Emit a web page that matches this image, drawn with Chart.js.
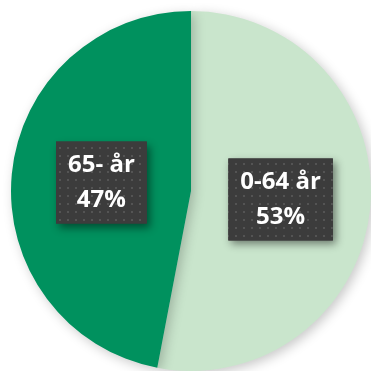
<!DOCTYPE html>
<html>
<head>
<meta charset="utf-8">
<script src="https://cdn.jsdelivr.net/npm/chart.js@4"></script>
<style>
html,body{margin:0;padding:0;background:#ffffff;}
#c{display:block;}
</style>
</head>
<body>
<canvas id="c" width="371" height="371"></canvas>
<script>
const categories = ["0-64 år", "65- år"];
const values = [53, 47];
const colors = ["#c9e5cc", "#00915e"];

const shadowPlugin = {
  id: 'pieShadow',
  beforeDatasetsDraw(chart) {
    const ctx = chart.ctx;
    ctx.save();
    ctx.shadowColor = 'rgba(0,0,0,0.22)';
    ctx.shadowBlur = 12;
    ctx.shadowOffsetX = 3;
    ctx.shadowOffsetY = 3;
  },
  afterDatasetsDraw(chart) {
    chart.ctx.restore();
  }
};

function makePattern(ctx) {
  const p = document.createElement('canvas');
  p.width = 8; p.height = 8;
  const pc = p.getContext('2d');
  pc.fillStyle = '#3c3c3c';
  pc.fillRect(0, 0, 8, 8);
  pc.fillStyle = '#545454';
  pc.fillRect(3, 3, 2, 2);
  return ctx.createPattern(p, 'repeat');
}

const labelPlugin = {
  id: 'boxLabels',
  afterDraw(chart) {
    const ctx = chart.ctx;
    const meta = chart.getDatasetMeta(0);
    const total = values.reduce((a, b) => a + b, 0);
    ctx.save();
    ctx.font = 'bold 24px "Open Sans", sans-serif';
    const pattern = makePattern(ctx);
    meta.data.forEach((arc, i) => {
      const pos = arc.tooltipPosition();
      const l1 = categories[i];
      const l2 = Math.round(values[i] / total * 100) + '%';
      const w = Math.max(ctx.measureText(l1).width, ctx.measureText(l2).width) + 24;
      const h = 82;
      const x = pos.x - w / 2, y = pos.y - h / 2;
      ctx.save();
      ctx.shadowColor = 'rgba(0,0,0,0.45)';
      ctx.shadowBlur = 8;
      ctx.shadowOffsetX = 3;
      ctx.shadowOffsetY = 4;
      ctx.fillStyle = '#3c3c3c';
      ctx.fillRect(x, y, w, h);
      ctx.restore();
      ctx.fillStyle = pattern;
      ctx.fillRect(x, y, w, h);
      ctx.fillStyle = '#ffffff';
      ctx.textAlign = 'center';
      ctx.textBaseline = 'middle';
      ctx.fillText(l1, pos.x, pos.y - 17);
      ctx.fillText(l2, pos.x, pos.y + 18);
    });
    ctx.restore();
  }
};

new Chart(document.getElementById('c'), {
  type: 'pie',
  data: {
    labels: categories,
    datasets: [{
      data: values,
      backgroundColor: colors,
      borderWidth: 0
    }]
  },
  options: {
    responsive: false,
    animation: false,
    layout: { padding: { left: 11, right: 0, top: 11, bottom: 0 } },
    plugins: {
      legend: { display: false },
      tooltip: { enabled: false }
    }
  },
  plugins: [shadowPlugin, labelPlugin]
});
</script>
</body>
</html>
